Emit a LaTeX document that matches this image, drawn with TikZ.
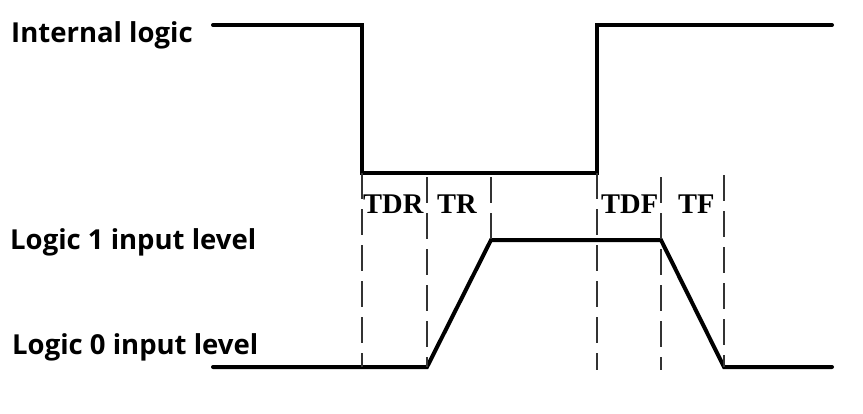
\documentclass[tikz,border=0pt]{standalone}
\usepackage{fontspec}
\setmainfont{Liberation Serif}
\newfontfamily\sidefont{Open Sans}
\usetikzlibrary{calc}
\tikzset{
	wave/.style={line width=4pt,line join=miter,line cap=round},
	guide/.style={line width=1.3pt,black!80,dash pattern=on 26pt off 10pt},
	sidelabel/.style={anchor=base west,inner sep=0pt,font=\sidefont\bfseries\fontsize{27.5}{30}\selectfont},
	tlabel/.style={anchor=base west,inner sep=0pt,font=\bfseries\fontsize{28.5}{30}\selectfont}
}
\begin{document}
\begin{tikzpicture}[x=1pt,y=-1pt]
		\useasboundingbox (0,0) rectangle (863,413);
		% internal logic
		\coordinate (I0) at (213,25);
		\coordinate (I1) at (362,25);
		\coordinate (I2) at (362,173);
		\coordinate (I3) at (597,173);
		\coordinate (I4) at (597,25);
		\coordinate (I5) at (832,25);
		% input level
		\coordinate (P0) at (213,367);
		\coordinate (P1) at (427,367);
		\coordinate (P2) at (491,240);
		\coordinate (P3) at (661,240);
		\coordinate (P4) at (724,367);
		\coordinate (P5) at (832,367);
		\draw[wave] (I0) -- (I1) -- (I2) -- (I3) -- (I4) -- (I5);
		\draw[wave] (P0) -- (P1) -- (P2) -- (P3) -- (P4) -- (P5);
		% guides
		\draw[guide] (I2) -- (I2 |- P0);
		\draw[guide] ($(P1 |- I2) + (0,4)$) -- (P1);
		\draw[guide] ($(P2 |- I2) + (0,4)$) -- (P2);
		\draw[guide] (I3) -- ($(I3 |- P0) + (0,3)$);
		\draw[guide] ($(P3 |- I2) + (0,4)$) -- ($(P3 |- P0) + (0,3)$);
		\draw[guide] ($(P4 |- I2) + (0,2)$) -- (P4);
		% labels
		\node[sidelabel] (LI) at (11,42) {Internal logic};
		\node[sidelabel] (L1) at (10,249) {Logic 1 input level};
		\node[sidelabel] (L0) at (12,354) {Logic 0 input level};
		\node[tlabel] (TDR) at (363,213) {TDR};
		\node[tlabel] (TR) at (437,213) {TR};
		\node[tlabel] (TDF) at (601,213) {TDF};
		\node[tlabel] (TF) at (678,213) {TF};
	\end{tikzpicture}
\end{document}
